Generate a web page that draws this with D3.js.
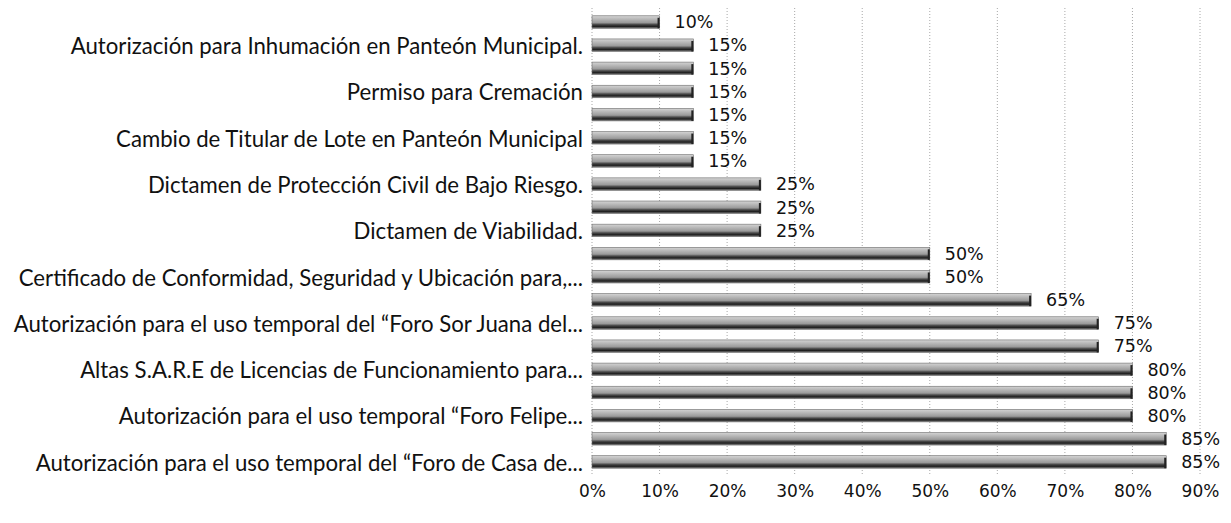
<!DOCTYPE html>
<html>
<head>
<meta charset="utf-8">
<script src="https://cdn.jsdelivr.net/npm/d3@7"></script>
<style>
  html, body { margin: 0; padding: 0; background: #fff; }
  svg { display: block; }
</style>
</head>
<body>
<svg id="chart" width="1231" height="523"></svg>
<script>
// Categories from top to bottom (labels shown only on every second one, as in the source)
const categories = [
  "c20", "Autorización para Inhumación en Panteón Municipal.",
  "c18", "Permiso para Cremación",
  "c16", "Cambio de Titular de Lote en Panteón Municipal",
  "c14", "Dictamen de Protección Civil de Bajo Riesgo.",
  "c12", "Dictamen de Viabilidad.",
  "c10", "Certificado de Conformidad, Seguridad y Ubicación para,...",
  "c8", "Autorización para el uso temporal del “Foro Sor Juana del...",
  "c6", "Altas S.A.R.E de Licencias de Funcionamiento para...",
  "c4", "Autorización para el uso temporal “Foro Felipe...",
  "c2", "Autorización para el uso temporal del “Foro de Casa de..."
];
const shownLabels = [false, true, false, true, false, true, false, true, false, true,
                     false, true, false, true, false, true, false, true, false, true];
const values = [10, 15, 15, 15, 15, 15, 15, 25, 25, 25, 50, 50, 65, 75, 75, 80, 80, 80, 85, 85];
const tickValues = [0, 10, 20, 30, 40, 50, 60, 70, 80, 90];
const tickLabels = ["0%", "10%", "20%", "30%", "40%", "50%", "60%", "70%", "80%", "90%"];

const svg = d3.select("#chart");

const x = d3.scaleLinear().domain([0, 90]).range([592, 1200]);
const y = d3.scaleBand().domain(categories).range([10, 474]).paddingInner(0.46).paddingOuter(0.25);

// gradient for pseudo-3D grey bars
const defs = svg.append("defs");
const g = defs.append("linearGradient").attr("id", "barGrad")
  .attr("x1", 0).attr("y1", 0).attr("x2", 0).attr("y2", 1);
[[0, "#d4d4d4"], [0.3, "#b4b4b4"], [0.55, "#9a9a9a"], [0.7, "#4a4a4a"], [0.85, "#1e1e1e"], [1, "#8a8a8a"]]
  .forEach(([o, c]) => g.append("stop").attr("offset", o).attr("stop-color", c));

// gridlines
svg.append("g")
  .selectAll("line")
  .data(tickValues)
  .join("line")
  .attr("x1", d => x(d)).attr("x2", d => x(d))
  .attr("y1", 8).attr("y2", 476)
  .attr("stroke", "#a8a8a8")
  .attr("stroke-width", 1)
  .attr("stroke-dasharray", "1,2");

// bars
const bars = svg.append("g");
bars.selectAll("rect.bar")
  .data(values)
  .join("rect")
  .attr("class", "bar")
  .attr("x", x(0))
  .attr("y", (d, i) => y(categories[i]))
  .attr("width", d => x(d) - x(0))
  .attr("height", y.bandwidth())
  .attr("fill", "url(#barGrad)")
  .attr("stroke", "#6a6a6a")
  .attr("stroke-width", 0.6);

// dark end caps
bars.selectAll("rect.cap")
  .data(values)
  .join("rect")
  .attr("class", "cap")
  .attr("x", d => x(d) - 2)
  .attr("y", (d, i) => y(categories[i]) + 2)
  .attr("width", 2)
  .attr("height", y.bandwidth() - 2)
  .attr("fill", "#222");

// value labels
svg.append("g")
  .selectAll("text")
  .data(values)
  .join("text")
  .attr("x", d => x(d) + 15)
  .attr("y", (d, i) => y(categories[i]) + y.bandwidth() / 2)
  .attr("dy", "0.36em")
  .attr("font-family", "DejaVu Sans, sans-serif")
  .attr("font-size", 17.5)
  .attr("fill", "#111")
  .text(d => d + "%");

// category labels
svg.append("g")
  .selectAll("text")
  .data(categories.filter((c, i) => shownLabels[i]))
  .join("text")
  .attr("x", 583)
  .attr("y", d => y(d) + y.bandwidth() / 2 + 1)
  .attr("dy", "0.35em")
  .attr("text-anchor", "end")
  .attr("font-family", "Lato, sans-serif")
  .attr("font-size", 22.2)
  .attr("fill", "#111")
  .text(d => d);

// x axis tick labels
const xAxis = d3.axisBottom(x)
  .tickValues(tickValues)
  .tickFormat((d, i) => tickLabels[i])
  .tickSize(0)
  .tickPadding(0);
const ax = svg.append("g").attr("transform", "translate(0,485)").call(xAxis);
ax.select(".domain").remove();
ax.selectAll("text")
  .attr("font-family", "DejaVu Sans, sans-serif")
  .attr("font-size", 17)
  .attr("fill", "#111");
</script>
</body>
</html>
